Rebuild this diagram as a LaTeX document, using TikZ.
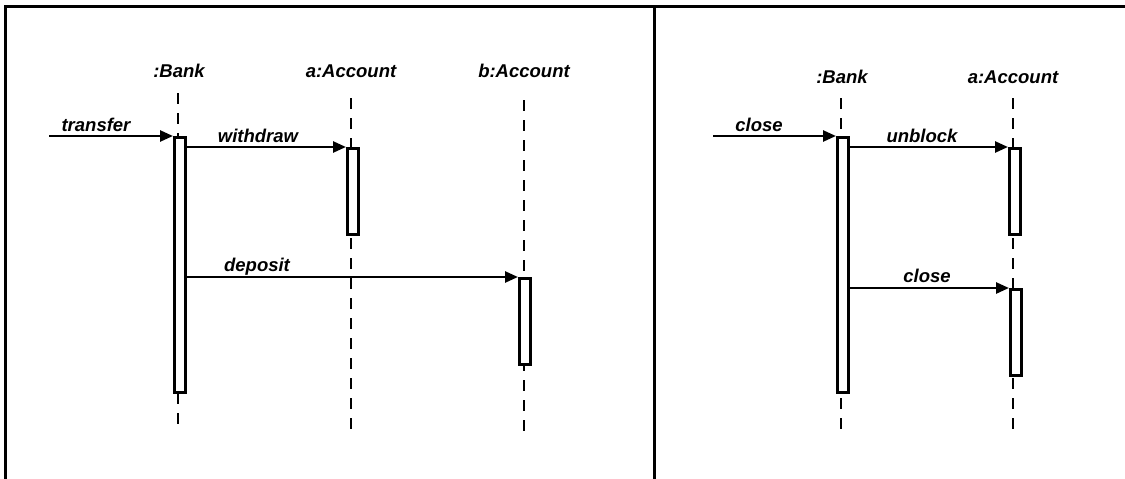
\documentclass[tikz,border=0pt]{standalone}
\usepackage{fontspec}
\setmainfont{Liberation Sans}
\usetikzlibrary{arrows.meta}
\begin{document}
\begin{tikzpicture}[x=1pt,y=-1pt,
  lbl/.style={font=\fontsize{18.5}{20}\selectfont\bfseries\itshape, inner sep=0pt, anchor=base},
  act/.style={draw, fill=white, line width=2.6pt, inner sep=0pt, minimum width=11pt, anchor=north west},
  life/.style={line width=2.8pt, dash pattern=on 11pt off 9pt},
  msg/.style={line width=2.6pt, -{Triangle[length=13pt,width=11pt]}},
  frm/.style={line width=3pt}]
\useasboundingbox (0,0) rectangle (1125,479);
% frame
\coordinate (fBL) at (5,479);
\coordinate (fTL) at (5,6);
\coordinate (fTR) at (1125,6);
\coordinate (fMT) at (654,6);
\coordinate (fMB) at (654,479);
\draw[frm] (fBL) -- (fTL) -- (fTR);
\draw[frm] (fMT) -- (fMB);

% ---- left diagram ----
\node[lbl] (bankL) at (179,77) {:Bank};
\node[lbl] (aaccL) at (351,77) {a:Account};
\node[lbl] (baccL) at (524,77) {b:Account};
\coordinate (bankLtop) at (178,93);
\coordinate (bankLbot) at (178,428);
\coordinate (aaccLtop) at (351,98);
\coordinate (aaccLbot) at (351,433);
\coordinate (baccLtop) at (524,100);
\coordinate (baccLbot) at (524,433);
\draw[life] (bankLtop) -- (bankLbot);
\draw[life] (aaccLtop) -- (aaccLbot);
\draw[life] (baccLtop) -- (baccLbot);

\node[act, minimum height=255pt] (bankAct) at (173,136) {};
\node[act, minimum height=86pt] (aAct) at (346,147) {};
\node[act, minimum height=86pt] (bAct) at (518,277) {};

\coordinate (transferStart) at (49,136);
\draw[msg] (transferStart) -- (bankAct.north west);
\node[lbl] (transferLbl) at (96,131) {transfer};
\draw[msg] (bankAct.east |- aAct.north west) -- (aAct.north west);
\node[lbl] (withdrawLbl) at (258,142) {withdraw};
\draw[msg] (bankAct.east |- bAct.north west) -- (bAct.north west);
\node[lbl] (depositLbl) at (257,271) {deposit};

% ---- right diagram ----
\node[lbl] (bankR) at (842,83) {:Bank};
\node[lbl] (aaccR) at (1013,83) {a:Account};
\coordinate (bankRtop) at (841,98);
\coordinate (bankRbot) at (841,433);
\coordinate (aaccRtop) at (1013,98);
\coordinate (aaccRbot) at (1013,433);
\draw[life] (bankRtop) -- (bankRbot);
\draw[life] (aaccRtop) -- (aaccRbot);

\node[act, minimum height=255pt] (bankActR) at (836,136) {};
\node[act, minimum height=86pt] (aAct1) at (1008,147) {};
\node[act, minimum height=86pt] (aAct2) at (1009,288) {};

\coordinate (closeStart) at (713,136);
\draw[msg] (closeStart) -- (bankActR.north west);
\node[lbl] (closeLbl) at (759,131) {close};
\draw[msg] (bankActR.east |- aAct1.north west) -- (aAct1.north west);
\node[lbl] (unblockLbl) at (922,142) {unblock};
\draw[msg] (bankActR.east |- aAct2.north west) -- (aAct2.north west);
\node[lbl] (closeLbl2) at (927,282) {close};
\end{tikzpicture}
\end{document}
